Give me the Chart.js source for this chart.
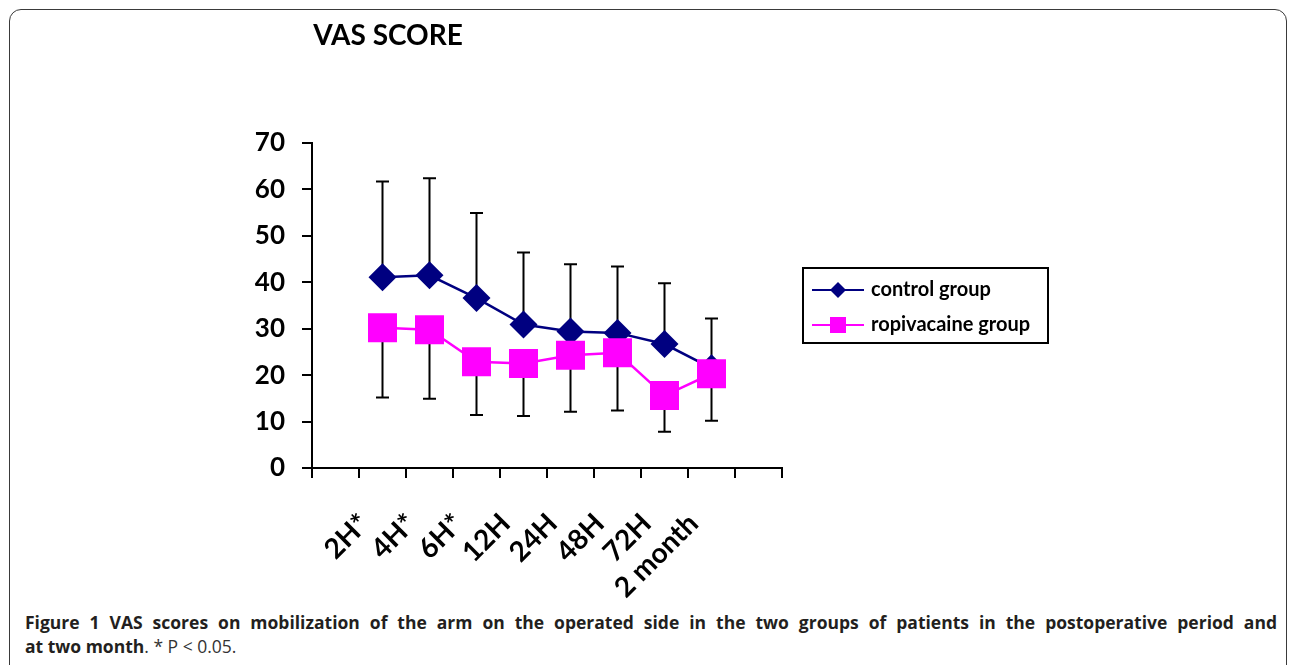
<!DOCTYPE html>
<html>
<head>
<meta charset="utf-8">
<script src="https://cdn.jsdelivr.net/npm/chart.js@4.4.1/dist/chart.umd.min.js"></script>
<style>
  html, body { margin: 0; padding: 0; background: #fff; }
  body { width: 1290px; height: 665px; position: relative; overflow: hidden; }
  #frame { position: absolute; left: 9px; top: 9px; width: 1278px; height: 700px;
           border: 1.5px solid #3a3a3a; border-radius: 12px; box-sizing: border-box; }
  #wrap { position: absolute; left: 0; top: 0; width: 1290px; height: 600px; }
  #caption { position: absolute; left: 25px; top: 610px; width: 1252px;
             font-family: "Open Sans", "Noto Sans", sans-serif; font-size: 17.5px; color: #231f20; line-height: 24px; }
  #caption .l1 { text-align: justify; text-align-last: justify; font-weight: 700; white-space: nowrap; }
  #caption .l2 { font-weight: 700; }
  #caption .n { font-weight: 400; color: #333; }
</style>
</head>
<body>
<div id="frame"></div>
<div id="wrap"><canvas id="c" width="1290" height="600"></canvas></div>
<div id="caption">
  <div class="l1">Figure 1 VAS scores on mobilization of the arm on the operated side in the two groups of patients in the postoperative period and</div>
  <div class="l2">at two month<span class="n">. * P &lt; 0.05.</span></div>
</div>
<script>
// ---- data ----
const categories = ['2H*', '4H*', '6H*', '12H', '24H', '48H', '72H', '2 month'];
const controlGroup = [41.1, 41.5, 36.6, 30.9, 29.4, 29.1, 26.7, 21.5];
const controlUpper = [61.7, 62.4, 54.9, 46.4, 43.9, 43.4, 39.8, 32.2];
const ropivacaineGroup = [30.2, 29.8, 22.9, 22.5, 24.3, 24.8, 15.6, 20.3];
const ropivacaineLower = [15.2, 14.9, 11.4, 11.2, 12.1, 12.4, 7.8, 10.2];
const yTicks = [0, 10, 20, 30, 40, 50, 60, 70];
const seriesNames = ['control group', 'ropivacaine group'];
const chartTitle = 'VAS SCORE';

// padded with an empty category at each end (as in the original axis)
const labels = [''].concat(categories, ['']);
const pad = arr => [null].concat(arr, [null]);

const NAVY = '#000080', MAGENTA = '#ff00ff';
const FONT = 'Lato, "Open Sans", sans-serif';

const errorBars = {
  id: 'errorBars',
  beforeDatasetsDraw(chart) {
    const { ctx, scales: { x, y } } = chart;
    ctx.save();
    ctx.strokeStyle = '#000';
    ctx.lineWidth = 2;
    const cap = 6.5;
    const drawBar = (i, from, to) => {
      const px = x.getPixelForValue(i + 1);
      const y0 = y.getPixelForValue(from), y1 = y.getPixelForValue(to);
      ctx.beginPath();
      ctx.moveTo(px, y0); ctx.lineTo(px, y1);
      ctx.moveTo(px - cap, y1); ctx.lineTo(px + cap, y1);
      ctx.stroke();
    };
    controlGroup.forEach((v, i) => drawBar(i, v, controlUpper[i]));
    ropivacaineGroup.forEach((v, i) => drawBar(i, v, ropivacaineLower[i]));
    ctx.restore();
  }
};

const decorations = {
  id: 'decorations',
  afterDraw(chart) {
    const ctx = chart.ctx;
    ctx.save();
    // title
    ctx.fillStyle = '#000';
    ctx.font = 'bold 28px ' + FONT;
    ctx.textAlign = 'center';
    ctx.textBaseline = 'middle';
    ctx.fillText(chartTitle, 388, 36);
    // legend box
    ctx.strokeStyle = '#000';
    ctx.lineWidth = 2;
    ctx.strokeRect(803, 268, 245, 75);
    const items = [
      { color: NAVY, style: 'diamond', y: 290 },
      { color: MAGENTA, style: 'square', y: 325 }
    ];
    items.forEach((it, k) => {
      ctx.strokeStyle = it.color;
      ctx.lineWidth = 2;
      ctx.beginPath(); ctx.moveTo(812, it.y); ctx.lineTo(864, it.y); ctx.stroke();
      ctx.fillStyle = it.color;
      ctx.beginPath();
      if (it.style === 'diamond') {
        ctx.moveTo(838, it.y - 8); ctx.lineTo(846, it.y);
        ctx.lineTo(838, it.y + 8); ctx.lineTo(830, it.y);
      } else {
        ctx.rect(830, it.y - 8, 16, 16);
      }
      ctx.closePath(); ctx.fill();
      ctx.fillStyle = '#000';
      ctx.font = 'bold 20px ' + FONT;
      ctx.textAlign = 'left';
      ctx.textBaseline = 'middle';
      ctx.fillText(seriesNames[k], 871, it.y);
    });
    ctx.restore();
  }
};

new Chart(document.getElementById('c'), {
  type: 'line',
  data: {
    labels: labels,
    datasets: [
      { label: seriesNames[1], data: pad(ropivacaineGroup), borderColor: MAGENTA, backgroundColor: MAGENTA,
        borderWidth: 2.5, pointStyle: 'rect', pointRadius: 20.5, pointHoverRadius: 20.5, pointBorderWidth: 0,
        order: 0, spanGaps: false },
      { label: seriesNames[0], data: pad(controlGroup), borderColor: NAVY, backgroundColor: NAVY,
        borderWidth: 2.5, pointStyle: 'rectRot', pointRadius: 14, pointHoverRadius: 14, pointBorderWidth: 0,
        order: 1, spanGaps: false }
    ]
  },
  options: {
    responsive: false,
    animation: false,
    events: [],
    layout: { padding: { left: 0, top: 143, right: 508, bottom: 0 } },
    plugins: { legend: { display: false }, title: { display: false }, tooltip: { enabled: false } },
    scales: {
      x: {
        type: 'category',
        offset: true,
        grid: { offset: true, drawOnChartArea: false, drawTicks: true, tickLength: 10, color: '#000', lineWidth: 2 },
        border: { color: '#000', width: 2 },
        ticks: { autoSkip: false, maxRotation: 45, minRotation: 45, padding: 29, labelOffset: -18,
                 color: '#000', font: { family: FONT, weight: 'bold', size: 28 } },
        afterFit(s) { s.height = 132; }
      },
      y: {
        min: yTicks[0], max: yTicks[yTicks.length - 1],
        afterBuildTicks(s) { s.ticks = yTicks.map(v => ({ value: v })); },
        grid: { drawOnChartArea: false, drawTicks: true, tickLength: 10, color: '#000', lineWidth: 2 },
        border: { color: '#000', width: 2 },
        ticks: { padding: 17, color: '#000', font: { family: FONT, weight: 'bold', size: 26 } },
        afterFit(s) { s.width = 312; }
      }
    }
  },
  plugins: [errorBars, decorations]
});
</script>
</body>
</html>
